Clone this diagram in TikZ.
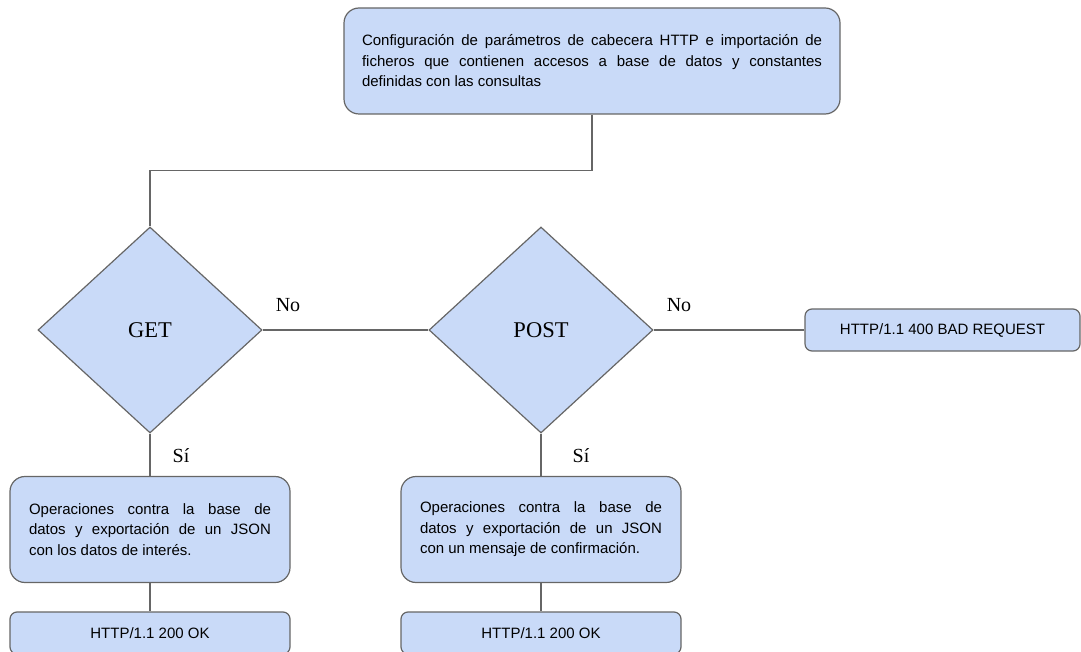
\documentclass[tikz,border=0pt]{standalone}
\usepackage{fontspec}
\setmainfont{Liberation Sans}
\newfontfamily\labelfont{Liberation Serif}
\usepackage{tikz}
\usetikzlibrary{shapes.geometric,positioning}
\definecolor{boxblue}{HTML}{C9DAF8}
\definecolor{edgegray}{HTML}{666666}
\hyphenpenalty=10000
\exhyphenpenalty=10000
\tikzset{
  stepbox/.style={draw=edgegray, fill=boxblue, line width=1.2pt, rounded corners=15pt,
    inner xsep=0pt, inner ysep=0pt, align=justify, font=\fontsize{15}{20.5}\selectfont},
  statusbox/.style={draw=edgegray, fill=boxblue, line width=1.2pt, rounded corners=7pt,
    minimum height=42pt, align=center, font=\fontsize{15}{18}\selectfont},
  choice/.style={diamond, draw=edgegray, fill=boxblue, line width=1.2pt, inner sep=0pt,
    minimum width=224pt, minimum height=206pt, font=\labelfont\fontsize{22.5}{26}\selectfont},
  answer/.style={font=\labelfont\fontsize{20}{24}\selectfont},
  link/.style={draw=edgegray, line width=1.2pt}
}

\begin{document}
\begin{tikzpicture}[x=1pt,y=-1pt]
  \clip (0,0) rectangle (1081,652);
  % Cabecera
  \node[stepbox, text width=460pt, minimum width=496pt, minimum height=106pt] (conf) at (592,61)
    {Configuración de parámetros de cabecera HTTP e importación de\linebreak ficheros que contienen accesos a base de datos y constantes\linebreak definidas con las consultas};
  % Decisiones
  \node[choice] (get) at (150,330) {GET};
  \node[choice] (post) at (541,330) {POST};
  \node[statusbox, minimum width=275pt] (bad) at (942.5,330) {HTTP/1.1 400 BAD REQUEST};
  \node[answer] (noget) at (288,305) {No};
  \node[answer] (nopost) at (679,305) {No};
  \node[answer] (siget) at (181,456) {Sí};
  \node[answer] (sipost) at (581,456) {Sí};
  % Operaciones
  \node[stepbox, text width=242pt, minimum width=280pt, minimum height=106pt] (opget) at (150,529.5)
    {Operaciones contra la base de\linebreak datos y exportación de un JSON\linebreak con los datos de interés.};
  \node[stepbox, text width=242pt, minimum width=280pt, minimum height=106pt] (oppost) at (541,529.5)
    {Operaciones contra la base de\linebreak datos y exportación de un JSON\linebreak con un mensaje de confirmación.};
  \node[statusbox, minimum width=280pt] (okget) at (150,633) {HTTP/1.1 200 OK};
  \node[statusbox, minimum width=280pt] (okpost) at (541,633) {HTTP/1.1 200 OK};
  % Conexiones
  \draw[link] (conf.south) -- ++(0,56) -| (get.north);
  \draw[link] (get.east) -- (post.west);
  \draw[link] (post.east) -- (bad.west);
  \draw[link] (get.south) -- (opget.north);
  \draw[link] (post.south) -- (oppost.north);
  \draw[link] (opget.south) -- (okget.north);
  \draw[link] (oppost.south) -- (okpost.north);
\end{tikzpicture}
\end{document}
